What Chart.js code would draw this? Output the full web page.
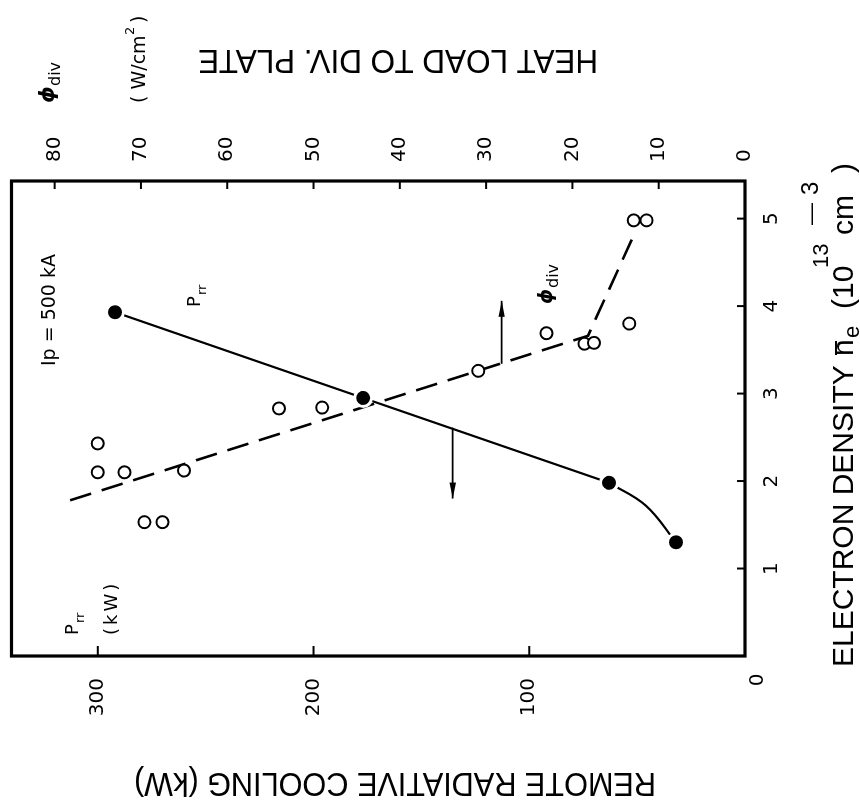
<!DOCTYPE html>
<html>
<head>
<meta charset="utf-8">
<script src="https://cdn.jsdelivr.net/npm/chart.js@4/dist/chart.umd.min.js"></script>
<style>
  html, body { margin: 0; padding: 0; background: #fff; width: 860px; height: 803px; overflow: hidden; }
  /* The figure is laid out upright and then turned a quarter turn counter-clockwise. */
  #wrap { position: absolute; left: 0; top: 0; width: 803px; height: 860px;
          transform-origin: 0 0; transform: translate(0, 803px) rotate(-90deg); }
  canvas { display: block; }
</style>
</head>
<body>
<div id="wrap"><canvas id="fig" width="803" height="860"></canvas></div>
<script>
// Remote radiative cooling P_rr (kW) versus line-averaged electron density (1e13 cm^-3)
const prrDensity = [1.30, 1.98, 2.95, 3.93];
const prrKW      = [32, 63, 177, 292];

// Heat load to the divertor plate phi_div (W/cm^2)
const phiDensity = [1.53, 1.53, 2.10, 2.10, 2.12, 2.43, 2.83, 2.84, 3.26, 3.57, 3.58, 3.69, 3.80, 4.98, 4.98];
const phiLoad    = [69.6, 67.5, 75.0, 71.9, 65.0, 75.0, 54.0, 49.0, 30.9, 18.6, 17.5, 23.0, 13.4, 12.9, 11.4];

// Trend lines drawn through the measurements
const prrTrendDensity = [1.98, 2.95, 3.93];
const prrTrendKW      = [63, 177, 292];
const prrTailDensity  = [1.30, 1.72, 1.98];
const prrTailKW       = [32, 46, 63];
const phiTrendDensity = [1.78, 3.66, 4.83];
const phiTrendLoad    = [78.2, 18.2, 12.8];

// Arrows telling which axis each trend belongs to
const phiArrowDensity = [3.34, 4.06];
const phiArrowLoad    = [28.2, 28.2];
const prrArrowDensity = [2.61, 1.80];
const prrArrowKW      = [135.5, 135.5];

// Tick values
const densityTicks = [1, 2, 3, 4, 5];
const prrTicks     = [0, 100, 200, 300];
const phiTicks     = [0, 10, 20, 30, 40, 50, 60, 70, 80];

const pairs = (xs, ys) => xs.map((x, i) => ({ x: x, y: ys[i] }));
const TICK_FONT = { family: 'DejaVu Sans', size: 20 };

function put(ctx, str, u, v, font, opt) {
  opt = opt || {};
  ctx.save();
  ctx.font = font;
  ctx.fillStyle = '#000';
  ctx.textAlign = opt.align || 'left';
  ctx.textBaseline = opt.base || 'alphabetic';
  if (opt.spacing) ctx.letterSpacing = opt.spacing;
  ctx.translate(u, v);
  if (opt.rot) ctx.rotate(opt.rot);
  if (opt.maxWidth) ctx.fillText(str, 0, 0, opt.maxWidth); else ctx.fillText(str, 0, 0);
  ctx.restore();
}

function line(ctx, x1, y1, x2, y2) {
  ctx.beginPath(); ctx.moveTo(x1, y1); ctx.lineTo(x2, y2); ctx.stroke();
}

const decor = {
  id: 'decor',
  beforeDraw(chart) {
    const ctx = chart.ctx;
    ctx.save();
    ctx.fillStyle = '#fff';
    ctx.fillRect(0, 0, chart.width, chart.height);
    ctx.restore();
  },
  afterDatasetsDraw(chart) {
    const ctx = chart.ctx, a = chart.chartArea;
    const sx = chart.scales.x, sp = chart.scales.yP, sf = chart.scales.yF;
    ctx.save();
    ctx.strokeStyle = '#000';
    ctx.fillStyle = '#000';

    // frame
    ctx.lineWidth = 3.2;
    ctx.strokeRect(a.left, a.top, a.right - a.left, a.bottom - a.top);

    // inward tick marks
    ctx.lineWidth = 2;
    sx.ticks.forEach(t => { const p = sx.getPixelForValue(t.value); line(ctx, p, a.bottom, p, a.bottom - 8); });
    sp.ticks.forEach(t => { if (t.value > 0) { const p = sp.getPixelForValue(t.value); line(ctx, a.left, p, a.left + 10, p); } });
    sf.ticks.forEach(t => { if (t.value > 0) { const p = sf.getPixelForValue(t.value); line(ctx, a.right, p, a.right - 8, p); } });

    // arrowheads on the two pointer datasets
    [5, 6].forEach(idx => {
      const pts = chart.getDatasetMeta(idx).data;
      const p0 = pts[pts.length - 2], p1 = pts[pts.length - 1];
      const ang = Math.atan2(p1.y - p0.y, p1.x - p0.x);
      const len = 16, hw = 3.2;
      ctx.save();
      ctx.translate(p1.x, p1.y);
      ctx.rotate(ang);
      ctx.beginPath();
      ctx.moveTo(0, 0);
      ctx.lineTo(-len, -hw);
      ctx.lineTo(-len, hw);
      ctx.closePath();
      ctx.fill();
      ctx.restore();
    });
    ctx.restore();

    // annotations inside the frame
    put(ctx, 'Ip = 500 kA', 493, 55, '19px "DejaVu Sans"', { align: 'center' });
    put(ctx, 'P', 496, 200, '18px "DejaVu Sans"');
    put(ctx, 'rr', 508, 206, '13px "DejaVu Sans"');
    put(ctx, 'P', 168, 78, '18px "DejaVu Sans"');
    put(ctx, 'rr', 180, 84, '13px "DejaVu Sans"');
    put(ctx, '(kW)', 168, 117, '18px "DejaVu Sans"', { spacing: '3px' });
    put(ctx, '\u03D5', 499, 552, 'italic bold 19px "DejaVu Sans"');
    put(ctx, 'div', 515, 558, '16px "DejaVu Sans"');

    // unit label beside the right-hand scale
    put(ctx, '\u03D5', 700, 54, 'italic bold 21px "DejaVu Sans"');
    put(ctx, 'div', 717, 60, '16px "DejaVu Sans"');
    put(ctx, '( W/cm', 700, 145, '19px "DejaVu Sans"');
    put(ctx, '2', 768, 134, '13px "DejaVu Sans"');
    put(ctx, ' )', 774, 145, '19px "DejaVu Sans"');

    // shared origin label
    put(ctx, '0', 123, 758, '20px "DejaVu Sans"', { align: 'center', base: 'middle' });

    // axis titles
    put(ctx, 'REMOTE RADIATIVE COOLING (kW)', 30, 395, '33px "Liberation Sans"',
        { align: 'center', rot: -Math.PI / 2, maxWidth: 522 });
    put(ctx, 'HEAT LOAD TO DIV. PLATE', 753, 398, '33px "Liberation Sans"',
        { align: 'center', rot: -Math.PI / 2, maxWidth: 400 });

    put(ctx, 'ELECTRON DENSITY', 136, 853, '30px "Liberation Sans"');
    put(ctx, 'n', 447, 853, '30px "Liberation Sans"');
    ctx.save(); ctx.lineWidth = 2; line(ctx, 448, 836, 462, 836); ctx.restore();
    put(ctx, 'e', 465, 859, '22px "Liberation Sans"');
    put(ctx, '(10', 494, 853, '30px "Liberation Sans"');
    put(ctx, '13', 535, 828, '22px "Liberation Sans"');
    put(ctx, 'cm', 568, 853, '30px "Liberation Sans"');
    put(ctx, '\u2014', 578, 818, '22px "Liberation Sans"');
    put(ctx, '3', 608, 818, '24px "Liberation Sans"');
    put(ctx, ')', 630, 853, '30px "Liberation Sans"');
  }
};

new Chart(document.getElementById('fig'), {
  type: 'scatter',
  data: {
    datasets: [
      { data: pairs(prrDensity, prrKW), yAxisID: 'yP', showLine: false, order: 0,
        pointRadius: 8.5, pointBorderWidth: 3, pointBackgroundColor: '#000', pointBorderColor: '#fff' },
      { data: pairs(phiDensity, phiLoad), yAxisID: 'yF', showLine: false, order: 0,
        pointRadius: 6, pointBorderWidth: 2, pointBackgroundColor: '#fff', pointBorderColor: '#000' },
      { data: pairs(prrTrendDensity, prrTrendKW), yAxisID: 'yP', showLine: true, order: 1,
        borderColor: '#000', borderWidth: 2.2, pointRadius: 0 },
      { data: pairs(prrTailDensity, prrTailKW), yAxisID: 'yP', showLine: true, order: 1, tension: 0.4,
        borderColor: '#000', borderWidth: 2.2, pointRadius: 0 },
      { data: pairs(phiTrendDensity, phiTrendLoad), yAxisID: 'yF', showLine: true, order: 1,
        borderColor: '#000', borderWidth: 2.6, borderDash: [22, 11], pointRadius: 0 },
      { data: pairs(phiArrowDensity, phiArrowLoad), yAxisID: 'yF', showLine: true, order: 1,
        borderColor: '#000', borderWidth: 1.8, pointRadius: 0 },
      { data: pairs(prrArrowDensity, prrArrowKW), yAxisID: 'yP', showLine: true, order: 1,
        borderColor: '#000', borderWidth: 1.8, pointRadius: 0 }
    ]
  },
  options: {
    responsive: false,
    animation: false,
    events: [],
    layout: { padding: { top: 8, left: 0, right: 0, bottom: 0 } },
    plugins: { legend: { display: false }, tooltip: { enabled: false } },
    scales: {
      x: {
        type: 'linear', position: 'bottom', min: 0, max: 5.43,
        grid: { display: false, drawTicks: false }, border: { display: false },
        ticks: { color: '#000', font: TICK_FONT, padding: 15, maxRotation: 0, autoSkip: false },
        afterBuildTicks(s) { s.ticks = densityTicks.map(v => ({ value: v })); },
        afterFit(s) { s.height = 115; s.paddingLeft = 0; s.paddingRight = 0; }
      },
      yP: {
        type: 'linear', position: 'left', min: 0, max: 340,
        grid: { display: false, drawTicks: false }, border: { display: false },
        ticks: { color: '#000', font: TICK_FONT, padding: 22, autoSkip: false,
                 callback: v => (v === 0 ? '' : String(v)) },
        afterBuildTicks(s) { s.ticks = prrTicks.map(v => ({ value: v })); },
        afterFit(s) { s.width = 147; s.paddingTop = 0; s.paddingBottom = 0; }
      },
      yF: {
        type: 'linear', position: 'right', min: 0, max: 85,
        grid: { display: false, drawTicks: false }, border: { display: false },
        ticks: { color: '#000', font: TICK_FONT, padding: 19, autoSkip: false },
        afterBuildTicks(s) { s.ticks = phiTicks.map(v => ({ value: v })); },
        afterFit(s) { s.width = 181; s.paddingTop = 0; s.paddingBottom = 0; }
      }
    }
  },
  plugins: [decor]
});
</script>
</body>
</html>
